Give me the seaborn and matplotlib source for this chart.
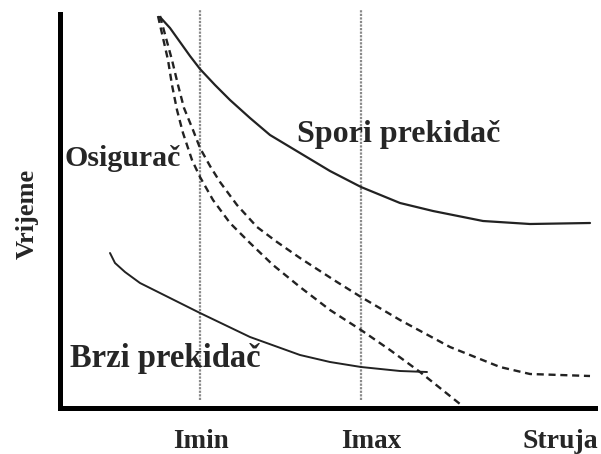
import matplotlib
matplotlib.use("Agg")
import matplotlib.pyplot as plt
import pandas as pd
import seaborn as sns

# curve points, x = current, y = time (schematic units)
spori_x = [100, 110, 120, 130, 140, 155, 170, 190, 210, 240, 270, 301, 340, 373, 423, 470, 530]
spori_y = [391, 380, 366, 352, 339, 323, 308, 290, 273, 255, 237, 221, 205, 197, 187, 184, 185]

osig1_x = [98, 103, 108, 112, 117, 123, 132, 140, 153, 170, 190, 213, 240, 270, 301, 330, 360, 400]
osig1_y = [392, 370, 348, 323, 298, 275, 248, 231, 208, 185, 165, 143, 121, 98, 78, 58, 36, 4]

osig2_x = [100, 106, 112, 118, 124, 133, 140, 150, 160, 177, 197, 217, 240, 260, 277, 301, 340, 390, 440, 470, 530]
osig2_y = [392, 370, 348, 323, 300, 278, 260, 242, 226, 203, 181, 166, 150, 137, 126, 111, 88, 61, 41, 34, 32]

brzi_x = [50, 55, 65, 80, 110, 140, 190, 240, 270, 301, 340, 367]
brzi_y = [155, 145, 136, 125, 110, 95, 71, 53, 46, 41, 37, 36]

marker_x = [140, 301]
marker_labels = ["Imin", "Imax"]

sns.set_style("white")
plt.rcParams["font.family"] = ["Liberation Serif", "DejaVu Serif"]

fig = plt.figure(figsize=(6.01, 4.54), dpi=100)
ax = fig.add_axes([60 / 601, 46 / 454, 535 / 601, 394 / 454])

curves = [
    (spori_x, spori_y, "-", 1.6),
    (osig1_x, osig1_y, (0, (3, 2)), 1.7),
    (osig2_x, osig2_y, (0, (3, 2)), 1.7),
    (brzi_x, brzi_y, "-", 1.4),
]
for xs, ys, ls, lw in curves:
    df = pd.DataFrame({"struja": xs, "vrijeme": ys})
    sns.lineplot(data=df, x="struja", y="vrijeme", sort=False, color="#222222",
                 linestyle=ls, linewidth=lw, ax=ax)

for xv in marker_x:
    ax.axvline(xv, ymin=0.02, ymax=1.01, color="#8a8a8a", linestyle=(0, (1, 0.6)),
               linewidth=1.6, clip_on=False, zorder=0)

ax.set_xlim(0, 535)
ax.set_ylim(0, 394)
ax.set_xticks([])
ax.set_yticks([])
ax.set_xlabel("")
ax.set_ylabel("")
for side in ["top", "right"]:
    ax.spines[side].set_visible(False)
for side in ["left", "bottom"]:
    ax.spines[side].set_linewidth(3.6)
    ax.spines[side].set_color("black")

ax.text(5, 242, "Osigurač", ha="left", va="baseline", fontsize=21.5, fontweight="bold")
ax.text(237, 266, "Spori prekidač", ha="left", va="baseline", fontsize=23, fontweight="bold")
ax.text(10, 41, "Brzi prekidač", ha="left", va="baseline", fontsize=23.5, fontweight="bold")

ax.text(141, -34, marker_labels[0], ha="center", va="center", fontsize=19.5, fontweight="bold")
ax.text(311, -34, marker_labels[1], ha="center", va="center", fontsize=19.5, fontweight="bold")
ax.text(500, -34, "Struja", ha="center", va="center", fontsize=20, fontweight="bold")
ax.text(-33, 194, "Vrijeme", ha="center", va="center", rotation=90, fontsize=19,
        fontweight="bold")

fig.savefig("out.png", dpi=100)
